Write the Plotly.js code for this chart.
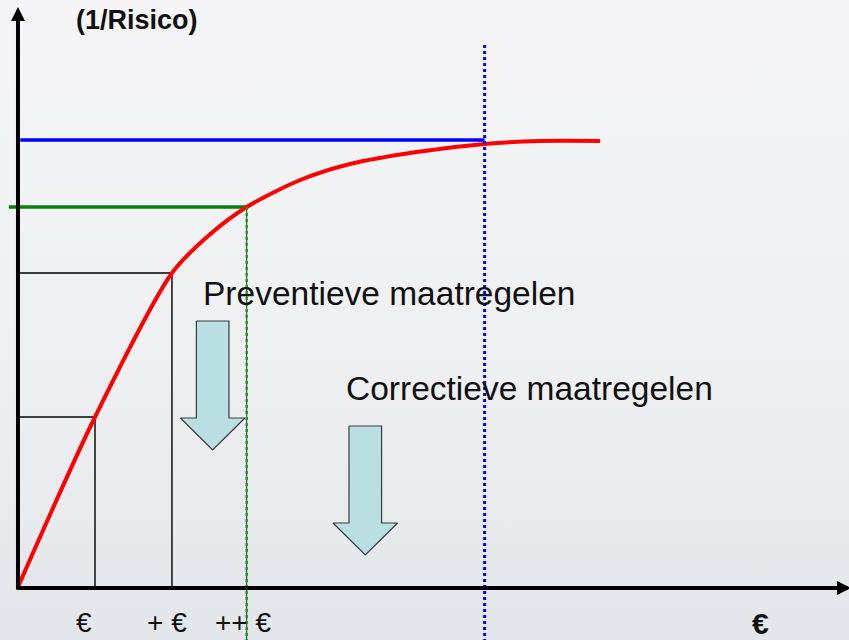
<!DOCTYPE html>
<html>
<head>
<meta charset="utf-8">
<script src="https://cdn.plot.ly/plotly-3.0.1.min.js"></script>
<style>
    html, body { margin: 0; padding: 0; }
    body {
        width: 849px;
        height: 640px;
        overflow: hidden;
        background: linear-gradient(180deg, #f5f5f7 0%, #eef0f2 55%, #e3e6ea 100%);
    }
    #chart { width: 849px; height: 640px; }
</style>
</head>
<body>
<div id="chart"></div>
<script>
// Cost (x) against safety = 1/risk (y), arbitrary units
const curveCost   = [0, 1.007, 2.013, 2.50, 2.99, 3.69, 4.34, 5.21, 6.10, 6.82, 7.61];
const curveSafety = [0, 1.70, 3.14, 3.52, 3.80, 4.07, 4.23, 4.35, 4.43, 4.46, 4.46];

// Budget steps on the cost axis
const costLevels    = [1.007, 2.013, 2.99];
const costLabels    = ['€', '+ €', '++ €'];
const safetyAtLevel = [1.70, 3.14, 3.80];

// Asymptote of the curve and the cost where it is (almost) reached
const maxSafety   = 4.47;
const optimumCost = 6.10;

const fontFamily = '"Liberation Sans", Arial, Helvetica, sans-serif';
const xRange = [-0.235, 10.863];
const yRange = [-0.53, 5.87];

// Block arrow (shaft + head) pointing down, as a closed polygon
function blockArrow(cx, top, shaftBottom, tip, shaftHalf, headHalf) {
    return {
        type: 'scatter',
        mode: 'lines',
        x: [cx - shaftHalf, cx + shaftHalf, cx + shaftHalf, cx + headHalf, cx, cx - headHalf, cx - shaftHalf, cx - shaftHalf],
        y: [top, top, shaftBottom, shaftBottom, tip, shaftBottom, shaftBottom, top],
        fill: 'toself',
        fillcolor: '#b9dfe2',
        line: { color: '#3a3a3a', width: 1.2 },
        hoverinfo: 'skip'
    };
}

const traces = [];

// Thin black guide lines for the first two budget steps
for (let i = 0; i < 2; i++) {
    traces.push({
        type: 'scatter',
        mode: 'lines',
        x: [0, costLevels[i], costLevels[i]],
        y: [safetyAtLevel[i], safetyAtLevel[i], 0],
        line: { color: '#000000', width: 1.4 },
        hoverinfo: 'skip'
    });
}

// Arrows under the texts
traces.push(blockArrow(2.545, 2.66, 1.69, 1.37, 0.213, 0.422));
traces.push(blockArrow(4.54, 1.61, 0.64, 0.32, 0.213, 0.422));

// Green level for the third step
traces.push({
    type: 'scatter', mode: 'lines',
    x: [-0.12, costLevels[2]],
    y: [safetyAtLevel[2], safetyAtLevel[2]],
    line: { color: '#0b7d0b', width: 3.5 },
    hoverinfo: 'skip'
});

// Blue maximum level
traces.push({
    type: 'scatter', mode: 'lines',
    x: [0.03, optimumCost],
    y: [maxSafety, maxSafety],
    line: { color: '#0000ff', width: 3.5 },
    hoverinfo: 'skip'
});

// Red curve
traces.push({
    type: 'scatter', mode: 'lines',
    x: curveCost,
    y: curveSafety,
    line: { color: '#ff0000', width: 4, shape: 'spline', smoothing: 0.8 },
    hoverinfo: 'skip'
});

// Dotted verticals
traces.push({
    type: 'scatter', mode: 'lines',
    x: [costLevels[2], costLevels[2]],
    y: [safetyAtLevel[2], yRange[0]],
    line: { color: '#1a3a1a', width: 1 },
    hoverinfo: 'skip'
});
traces.push({
    type: 'scatter', mode: 'lines',
    x: [costLevels[2], costLevels[2]],
    y: [safetyAtLevel[2], yRange[0]],
    line: { color: '#1f9a1f', width: 2.5, dash: 'dot' },
    hoverinfo: 'skip'
});
traces.push({
    type: 'scatter', mode: 'lines',
    x: [optimumCost, optimumCost],
    y: [5.42, yRange[0]],
    line: { color: '#0000ff', width: 3, dash: 'dot' },
    hoverinfo: 'skip'
});

const annotations = [];

// Axes with arrow heads
annotations.push({
    x: 0, y: 5.80, ax: 0, ay: -0.04, axref: 'x', ayref: 'y',
    text: '', showarrow: true, arrowhead: 2, arrowsize: 0.7, arrowwidth: 4, arrowcolor: '#000000'
});
annotations.push({
    x: 10.89, y: -0.01, ax: -0.03, ay: -0.01, axref: 'x', ayref: 'y',
    text: '', showarrow: true, arrowhead: 2, arrowsize: 0.7, arrowwidth: 4, arrowcolor: '#000000'
});

// Axis texts
annotations.push({
    x: 1.55, y: 5.67, text: '<b>(1/Risico)</b>', showarrow: false,
    font: { family: fontFamily, size: 27, color: '#111111' }
});
annotations.push({
    x: 9.71, y: -0.36, text: '<b>€</b>', showarrow: false,
    font: { family: fontFamily, size: 30, color: '#111111' }
});

const labelShift = [-11, -5, -4];
costLabels.forEach((label, i) => {
    annotations.push({
        x: costLevels[i], y: -0.35, xshift: labelShift[i],
        text: label, showarrow: false,
        font: { family: fontFamily, size: 28, color: '#111111' }
    });
});

annotations.push({
    x: 2.39, y: 2.94, xanchor: 'left', text: 'Preventieve maatregelen', showarrow: false,
    font: { family: fontFamily, size: 33.5, color: '#111111' }
});
annotations.push({
    x: 4.26, y: 1.985, xanchor: 'left', text: 'Correctieve maatregelen', showarrow: false,
    font: { family: fontFamily, size: 33.5, color: '#111111' }
});

const layout = {
    width: 849,
    height: 640,
    autosize: false,
    margin: { t: 0, b: 0, l: 0, r: 0, pad: 0 },
    paper_bgcolor: 'rgba(0,0,0,0)',
    plot_bgcolor: 'rgba(0,0,0,0)',
    showlegend: false,
    hovermode: false,
    xaxis: { range: xRange, visible: false, fixedrange: true },
    yaxis: { range: yRange, visible: false, fixedrange: true },
    annotations: annotations
};

Plotly.newPlot('chart', traces, layout, { displayModeBar: false, staticPlot: true });
</script>
</body>
</html>
